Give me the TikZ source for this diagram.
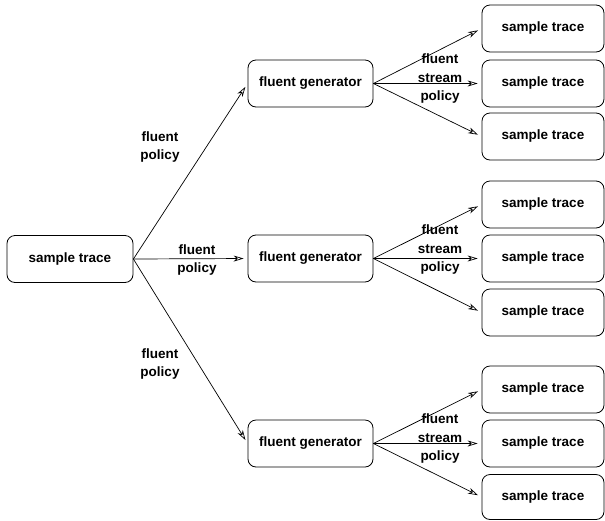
\documentclass[tikz,border=0pt]{standalone}
\usepackage{fontspec}
\setmainfont{Liberation Sans}
\usetikzlibrary{arrows.meta}
\tikzset{
  box/.style={draw, rounded corners=8pt, minimum height=47pt, line width=0.8pt,
    font=\bfseries\fontsize{13.5}{18}\selectfont},
  lbl/.style={font=\bfseries\fontsize{13.5}{18.5}\selectfont, align=center, inner sep=0pt},
  arr/.style={-{Stealth[open,length=10pt,width=6pt,inset=3pt]}, line width=0.7pt, shorten >=4pt}
}

\begin{document}
\begin{tikzpicture}[x=1pt,y=-1pt]
\useasboundingbox (0,0) rectangle (605,520);
\node[box, minimum width=126pt] (src) at (70,259) {sample trace};
\node[box, minimum width=125pt] (gen1) at (310.5,83.5) {fluent generator};
\node[box, minimum width=125pt] (gen2) at (310.5,258.5) {fluent generator};
\node[box, minimum width=125pt] (gen3) at (310.5,443.5) {fluent generator};
\node[box, minimum width=122pt] (st11) at (543,28.5) {sample trace};
\node[box, minimum width=122pt] (st12) at (543,83.5) {sample trace};
\node[box, minimum width=122pt] (st13) at (543,136.5) {sample trace};
\node[box, minimum width=122pt] (st21) at (543,204.5) {sample trace};
\node[box, minimum width=122pt] (st22) at (543,258.5) {sample trace};
\node[box, minimum width=122pt] (st23) at (543,312.5) {sample trace};
\node[box, minimum width=122pt] (st31) at (543,389.5) {sample trace};
\node[box, minimum width=122pt] (st32) at (543,443.5) {sample trace};
\node[box, minimum width=122pt, minimum height=45pt] (st33) at (543,497) {sample trace};
% policies out of the source trace
\draw[arr] (src.east) -- (gen1.west);
\draw[arr] (src.east) -- (gen2.west);
\draw[arr] (src.east) -- (gen3.west);
\node[lbl] (pol1) at (160,147) {fluent\\policy};
\node[lbl] (pol2) at (197,260) {fluent\\policy};
\node[lbl] (pol3) at (160,364) {fluent\\policy};
% stream policies out of each generator
\draw[arr] (gen1.east) -- (st11.west);
\draw[arr] (gen1.east) -- (st12.west);
\draw[arr] (gen1.east) -- (st13.west);
\draw[arr] (gen2.east) -- (st21.west);
\draw[arr] (gen2.east) -- (st22.west);
\draw[arr] (gen2.east) -- (st23.west);
\draw[arr] (gen3.east) -- (st31.west);
\draw[arr] (gen3.east) -- (st32.west);
\draw[arr] (gen3.east) -- (st33.west);
\node[lbl] (spol1) at (440,79) {fluent\\stream\\policy};
\node[lbl] (spol2) at (440,250) {fluent\\stream\\policy};
\node[lbl] (spol3) at (440,439) {fluent\\stream\\policy};
\end{tikzpicture}
\end{document}
